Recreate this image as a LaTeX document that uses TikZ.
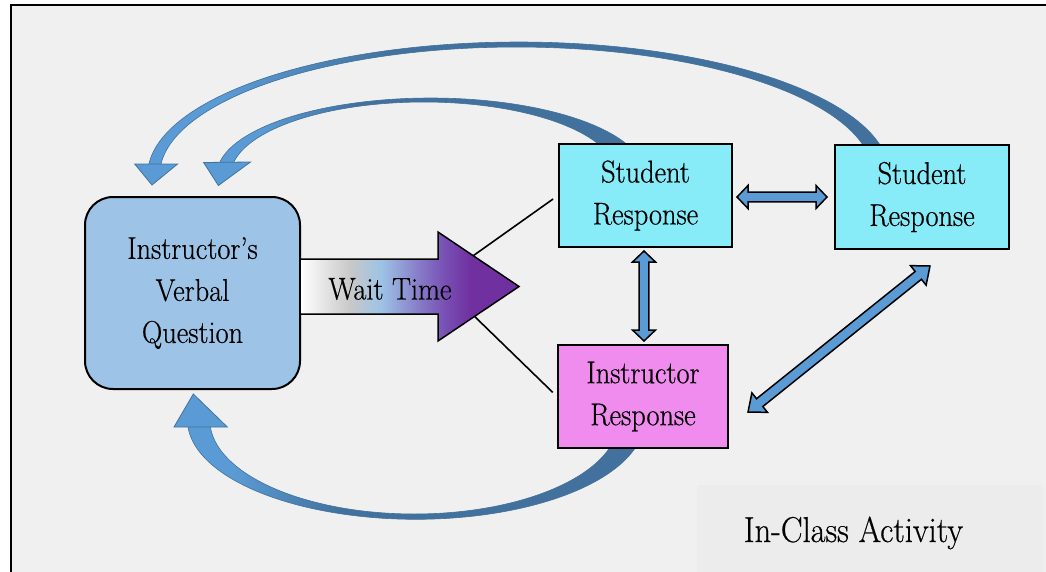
\documentclass[tikz,border=0pt]{standalone}
\usepackage{fontspec}
\setmainfont{Latin Modern Roman}[FakeStretch=0.9, FakeBold=0.5]
\usetikzlibrary{calc}
\definecolor{bgc}{RGB}{240,240,240}
\definecolor{icbg}{RGB}{236,236,236}
\definecolor{iqc}{RGB}{157,195,230}
\definecolor{src}{RGB}{135,235,248}
\definecolor{irc}{RGB}{240,140,238}
\definecolor{bl}{RGB}{91,155,213}
\definecolor{bd}{RGB}{65,113,156}
\definecolor{wgray}{RGB}{200,200,200}
\definecolor{wlblue}{RGB}{157,195,230}
\definecolor{wlav}{RGB}{135,125,200}
\definecolor{wmid}{RGB}{120,80,180}
\definecolor{wpur}{RGB}{112,48,160}
\pgfdeclarehorizontalshading{waitshade}{100bp}{color(0bp)=(white); color(25bp)=(white); color(36.5bp)=(wgray); color(43.5bp)=(wlblue); color(52bp)=(wlav); color(58bp)=(wmid); color(64bp)=(wpur); color(100bp)=(wpur)}
\pgfdeclarehorizontalshading{curveshade}{100bp}{color(0bp)=(bl); color(30bp)=(bl); color(42bp)=(bd); color(100bp)=(bd)}
\tikzset{
  box/.style={draw=black, line width=2pt, inner sep=0pt, align=center, font=\fontsize{31.5}{42}\selectfont},
  dbl/.style={draw=black, line width=1.5pt, fill=bl, line join=miter},
  band/.style={shade, shading=curveshade, draw=bd, line width=0.6pt},
  ahead/.style={fill=bl, draw=bd, line width=0.8pt, line join=miter},
  thinln/.style={draw=black, line width=1.6pt},
}
% #1 A, #2 B, #3 head length, #4 head half width, #5 shaft half width
\newcommand{\blockdbl}[5]{%
  \coordinate (tmpA) at ($(#1)!#3!(#2)$);
  \coordinate (tmpB) at ($(#2)!#3!(#1)$);
  \path[dbl] (#1) -- ($(tmpA)!#4!90:(#2)$) -- ($(tmpA)!#5!90:(#2)$)
    -- ($(tmpB)!#5!-90:(#1)$) -- ($(tmpB)!#4!-90:(#1)$) -- (#2)
    -- ($(tmpB)!#4!90:(#1)$) -- ($(tmpB)!#5!90:(#1)$)
    -- ($(tmpA)!#5!-90:(#2)$) -- ($(tmpA)!#4!-90:(#2)$) -- cycle;}
\begin{document}
\begin{tikzpicture}[x=1pt, y=-1pt]
\useasboundingbox (0,0) rectangle (1046,571);
\clip (0,0) rectangle (1046,571);
\fill[white] (0,0) rectangle (1046,571);
\draw[line width=2pt, fill=bgc] (11,5) rectangle (1080,600);
\fill[icbg] (697,485) rectangle (1043,580);

% curved arrows
\path[band] plot[domain=-10.83:-176.12, samples=90, smooth] ({518.6+371*cos(\x)},{175+133*sin(\x)})
  -- plot[domain=-175.97:-11.26, samples=90, smooth] ({516.3+356.65*cos(\x)},{175+128*sin(\x)}) -- cycle;
\path[ahead] (134.7,164) -- (177.6,164) -- (152,185) -- cycle;

\path[band] plot[domain=-18.95:-173.29, samples=90, smooth] ({430.7+213.9*cos(\x)},{175+77*sin(\x)})
  -- plot[domain=-172.92:-20.03, samples=90, smooth] ({423.7+192.9*cos(\x)},{175+73*sin(\x)}) -- cycle;
\path[ahead] (203.6,162.5) -- (250.5,162) -- (218.4,185.5) -- cycle;

\path[band] plot[domain=11.6:177.69, samples=90, smooth] ({415.9+228.5*cos(\x)},{420+99.3*sin(\x)})
  -- plot[domain=177.59:12.15, samples=90, smooth] ({414.3+204.5*cos(\x)},{420+94*sin(\x)}) -- cycle;
\path[ahead] (174,427) -- (227.3,427) -- (193.3,394) -- cycle;

% boxes
\node[box, rounded corners=28pt, fill=iqc, minimum width=215pt, minimum height=192pt] (iq) at (192.5,293) {Instructor’s\\Verbal\\Question};
\node[box, fill=src, minimum width=173pt, minimum height=103pt] (sr1) at (645.5,195.5) {Student\\Response};
\node[box, fill=src, minimum width=174pt, minimum height=104pt] (sr2) at (922,197) {Student\\Response};
\node[box, fill=irc, minimum width=170pt, minimum height=103pt] (ir) at (643,396.5) {Instructor\\Response};

% thin lines
\coordinate (wu) at (470,258);
\coordinate (wl) at (470,312);
\draw[thinln, shorten >=6pt] (wu) -- (sr1.west);
\draw[thinln, shorten >=6pt] (wl) -- (ir.west);

% wait time arrow
\path[shade, shading=waitshade, draw=black, line width=1.5pt, line join=miter]
  (300,259) -- (438,259) -- (438,232) -- (519,286.5) -- (438,341) -- (438,314) -- (300,314) -- cycle;
\node[font=\fontsize{31.5}{42}\selectfont] (wt) at (390,289) {Wait Time};

% double arrows
\coordinate (h1) at (737,197);
\coordinate (h2) at (827,197);
\coordinate (v1) at (644,251);
\coordinate (v2) at (644,341);
\coordinate (d1) at (748,412);
\coordinate (d2) at (930,266);
\blockdbl{h1}{h2}{11pt}{11.5pt}{4.8pt}
\blockdbl{v1}{v2}{11pt}{11.5pt}{4.8pt}
\blockdbl{d1}{d2}{15pt}{12.5pt}{5pt}

\node[font=\fontsize{36}{40}\selectfont, anchor=base] (ica) at (853.5,542) {In-Class Activity};
\end{tikzpicture}
\end{document}
